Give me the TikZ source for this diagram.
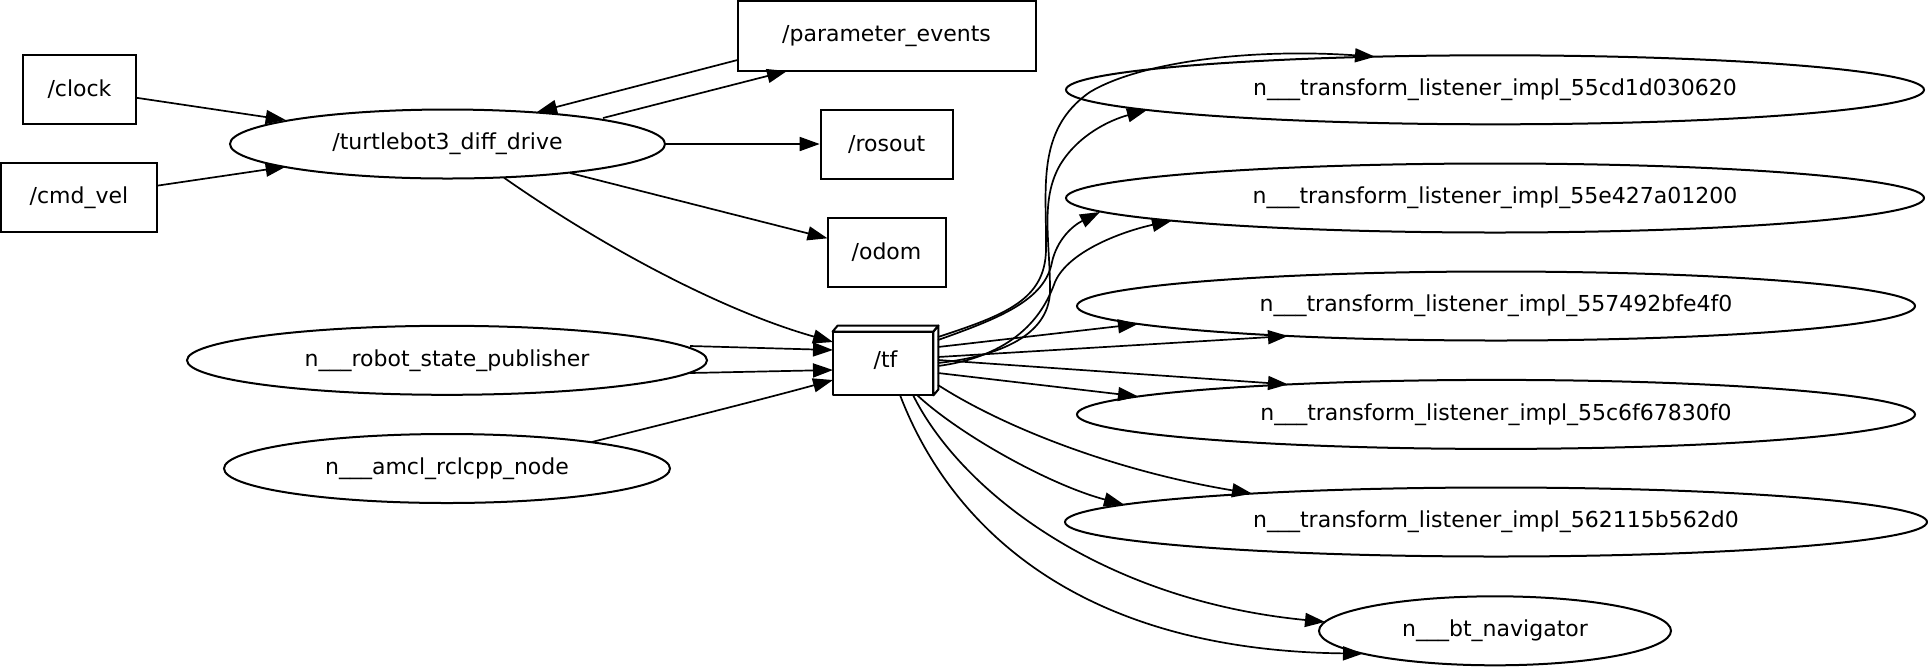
\documentclass[tikz,border=0pt]{standalone}
\usepackage{fontspec}
\setmainfont{DejaVu Sans}
\usetikzlibrary{arrows.meta,shapes.geometric}
\begin{document}
\begin{tikzpicture}[x=0.5pt,y=-0.5pt,
  font=\fontsize{11}{13}\selectfont,
  topic/.style={draw, line width=1pt, rectangle, inner sep=0pt, minimum height=34.5pt},
  proc/.style={draw, line width=1pt, ellipse, inner sep=0pt, minimum height=34.5pt},
  conn/.style={line width=0.85pt, -{Triangle[length=10pt,width=7pt]}},
  face/.style={draw, line width=1pt, line join=round}]
\useasboundingbox (0,0) rectangle (1928,666);

% nodes
\node[topic, minimum width=56.5pt] (clock) at (79.5,89.5) {/clock};
\node[topic, minimum width=78pt] (cmd) at (79,197.5) {/cmd\_vel};
\node[proc, minimum width=217.5pt] (tb) at (447.5,144) {/turtlebot3\_diff\_drive};
\node[topic, minimum width=149pt, minimum height=35pt] (pe) at (886.5,36) {/parameter\_events};
\node[topic, minimum width=66pt] (rosout) at (886.7,144) {/rosout};
\node[topic, minimum width=59pt] (odom) at (886.5,252) {/odom};
\node[inner sep=0pt, minimum width=52.5pt, minimum height=34.5pt] (tf) at (885.5,360.5) {/tf};
\node[proc, minimum width=260pt] (rsp) at (447,360.3) {n\_\_\_robot\_state\_publisher};
\node[proc, minimum width=223pt] (amcl) at (447,468.5) {n\_\_\_amcl\_rclcpp\_node};
\node[proc, minimum width=429pt] (tla) at (1495,89.8) {n\_\_\_transform\_listener\_impl\_55cd1d030620};
\node[proc, minimum width=429pt] (tlb) at (1495,198) {n\_\_\_transform\_listener\_impl\_55e427a01200};
\node[proc, minimum width=419pt] (tlc) at (1496,306) {n\_\_\_transform\_listener\_impl\_557492bfe4f0};
\node[proc, minimum width=419pt] (tld) at (1496,414.4) {n\_\_\_transform\_listener\_impl\_55c6f67830f0};
\node[proc, minimum width=431pt] (tle) at (1496,522) {n\_\_\_transform\_listener\_impl\_562115b562d0};
\node[proc, minimum width=176pt] (bt) at (1495,630.8) {n\_\_\_bt\_navigator};

% box3d faces of /tf
\path[face] ([shift={(0,6)}]tf.north west) rectangle ([shift={(-5,0)}]tf.south east);
\path[face] ([shift={(0,6)}]tf.north west) -- ([shift={(5,0)}]tf.north west) -- (tf.north east) -- ([shift={(-5,6)}]tf.north east) -- cycle;
\path[face] ([shift={(-5,6)}]tf.north east) -- (tf.north east) -- ([shift={(0,-6)}]tf.south east) -- ([shift={(-5,0)}]tf.south east) -- cycle;

% left side connectors
\draw[conn] ([shift={(56.5,8.2)}]clock.center) -- ([shift={(-161.8,-24)}]tb.center);
\draw[conn] ([shift={(78,-11.8)}]cmd.center) -- ([shift={(-161.8,22.7)}]tb.center);
\draw[conn] ([shift={(155.5,-26)}]tb.center) -- ([shift={(-99.5,35)}]pe.center);
\draw[conn] ([shift={(-149,24)}]pe.center) -- ([shift={(89.5,-32)}]tb.center);
\draw[conn] (tb.east) -- (rosout.west);
\draw[conn] ([shift={(122.5,29)}]tb.center) -- ([shift={(-59,-13.7)}]odom.center);
\draw[conn] ([shift={(56.5,33.7)}]tb.center) .. controls (600,245) and (720,310) .. ([shift={(-52.5,-18.5)}]tf.center);
\draw[conn] ([shift={(243,-14.3)}]rsp.center) -- ([shift={(-52.5,-10.5)}]tf.center);
\draw[conn] ([shift={(243,12.7)}]rsp.center) -- ([shift={(-52.5,9.5)}]tf.center);
\draw[conn] ([shift={(144.7,-26.5)}]amcl.center) .. controls (660,425) and (760,400) .. ([shift={(-52.5,19.5)}]tf.center);

% /tf to listeners
\draw[conn] ([shift={(52.5,-23.5)}]tf.center) .. controls (1005,315) and (1045,300) .. (1046,250)
  .. controls (1047,190) and (1035,130) .. (1090,92)
  .. controls (1140,62) and (1250,48) .. ([shift={(-120,-33.1)}]tla.center);
\draw[conn] ([shift={(52.5,-20.5)}]tf.center) .. controls (1000,318) and (1045,300) .. (1052,262)
  .. controls (1057,240) and (1072,226) .. ([shift={(-395,14)}]tlb.center);
\draw[conn] ([shift={(52.5,2.5)}]tf.center) .. controls (1010,355) and (1050,330) .. (1050,290)
  .. controls (1050,240) and (1040,200) .. (1060,165)
  .. controls (1078,135) and (1110,120) .. ([shift={(-348,20.2)}]tla.center);
\draw[conn] ([shift={(52.5,5.5)}]tf.center) .. controls (1020,355) and (1045,310) .. (1055,282)
  .. controls (1068,252) and (1120,232) .. ([shift={(-323,22.5)}]tlb.center);
\draw[conn] ([shift={(52.5,-13.5)}]tf.center) -- ([shift={(-358,18)}]tlc.center);
\draw[conn] ([shift={(52.5,-3.5)}]tf.center) -- ([shift={(-208,30)}]tlc.center);
\draw[conn] ([shift={(52.5,-0.5)}]tf.center) -- ([shift={(-208,-30)}]tld.center);
\draw[conn] ([shift={(52.5,12.5)}]tf.center) -- ([shift={(-358,-18)}]tld.center);
\draw[conn] ([shift={(52.5,24.5)}]tf.center) .. controls (1000,425) and (1110,470) .. ([shift={(-244,-28.4)}]tle.center);
\draw[conn] ([shift={(31.5,34.5)}]tf.center) .. controls (960,435) and (1050,485) .. ([shift={(-372,-17.4)}]tle.center);
\draw[conn] ([shift={(27.5,34.5)}]tf.center) .. controls (960,490) and (1100,600) .. ([shift={(-170,-8.9)}]bt.center);
\draw[conn] ([shift={(14.5,34.5)}]tf.center) .. controls (940,500) and (1050,650) .. ([shift={(-132,22.8)}]bt.center);
\end{tikzpicture}
\end{document}
